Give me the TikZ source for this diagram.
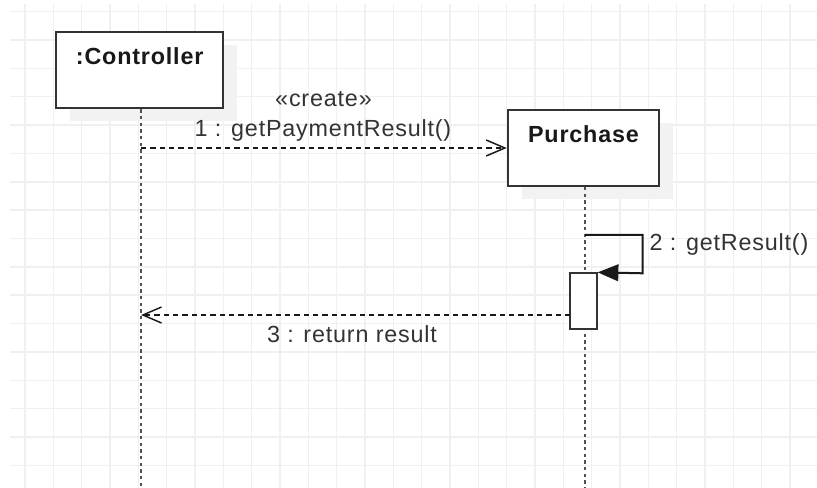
\documentclass[tikz,border=0pt]{standalone}
\usepackage{fontspec}
\setmainfont{Liberation Sans}[LetterSpace=3.5]
\usetikzlibrary{arrows.meta,backgrounds}

\definecolor{gridgray}{RGB}{240,240,240}
\definecolor{shadowgray}{RGB}{242,242,242}
\definecolor{inkgray}{RGB}{51,51,51}

\tikzset{
  gridline/.style={draw=gridgray, line width=1.1pt},
  objshadow/.style={fill=shadowgray},
  objbox/.style={draw=inkgray, fill=white, line width=1.5pt, inner sep=0pt},
  objname/.style={anchor=base, inner sep=0pt, text=black!90, font=\fontsize{17.5}{20}\selectfont\bfseries},
  actbox/.style={draw=inkgray, fill=white, line width=1.5pt, inner sep=0pt, minimum width=19.8pt, minimum height=41.5pt},
  lifeline/.style={draw=inkgray!85, line width=1.5pt, dash pattern=on 2.4pt off 2.6pt},
  msgline/.style={draw=black!90, line width=1.1pt, dash pattern=on 4pt off 3pt, -{Straight Barb[length=14pt,width=12pt,line width=1.1pt]}},
  selfmsg/.style={draw=black!90, line width=1.5pt, -{Triangle[length=15.5pt,width=12.5pt]}},
  msglabel/.style={anchor=base, inner sep=0pt, text=inkgray, font=\fontsize{17.5}{20}\selectfont}
}

\begin{document}
\begin{tikzpicture}[x=0.75pt,y=0.75pt,yscale=-1,xscale=1]
  \useasboundingbox (0,0) rectangle (817,488);

  % objects
  \node[objbox, minimum width=125.5pt, minimum height=57.5pt] (ctrl) at (139.7,70) {};
  \node[objbox, minimum width=113.7pt, minimum height=57pt] (purchase) at (583.5,148) {};
  \node[objname] (ctrlname) at (139.7,65) {:Controller};
  \node[objname] (purchasename) at (583.5,142.7) {Purchase};

  % grid and shadows
  \begin{pgfonlayer}{background}
    \begin{scope}
      \clip (10,4) rectangle (817,488);
      \foreach \gx in {0,...,28}
        \draw[gridline] (25+28.33*\gx,4) -- (25+28.33*\gx,488);
      \foreach \gy in {0,...,16}
        \draw[gridline] (10,11.7+28.35*\gy) -- (817,11.7+28.35*\gy);
    \end{scope}
    \fill[objshadow] (70,45) rectangle (237,121.3);
    \fill[objshadow] (521.7,123) rectangle (673.3,199.3);
  \end{pgfonlayer}

  % lifelines
  \coordinate (ctrlend) at (141,490);
  \coordinate (purchaseend) at (585,490);
  \draw[lifeline] (ctrl.south -| ctrlend) -- (ctrlend);
  \draw[lifeline] (purchase.south -| purchaseend) -- (purchaseend);

  % activation
  \node[actbox] (act) at (583.5,301) {};

  % messages
  \draw[msgline] (ctrlend |- purchase.west) -- (purchase.west);
  \node[msglabel] (createlbl) at (323.5,106.7) {«create»};
  \node[msglabel] (msg1lbl) at (323,136.7) {1 : getPaymentResult()};

  \coordinate (selfstart) at (585,235);
  \coordinate (selfturn) at (642.7,273.3);
  \draw[selfmsg] (selfstart) -| (selfturn) -- (act.north east);
  \node[msglabel, anchor=base west] (msg2lbl) at (649.3,250.7) {2 : getResult()};

  \coordinate (retstart) at (570.3,315);
  \draw[msgline] (retstart) -- (ctrlend |- retstart);
  \node[msglabel] (msg3lbl) at (352,342) {3 : return result};
\end{tikzpicture}
\end{document}
